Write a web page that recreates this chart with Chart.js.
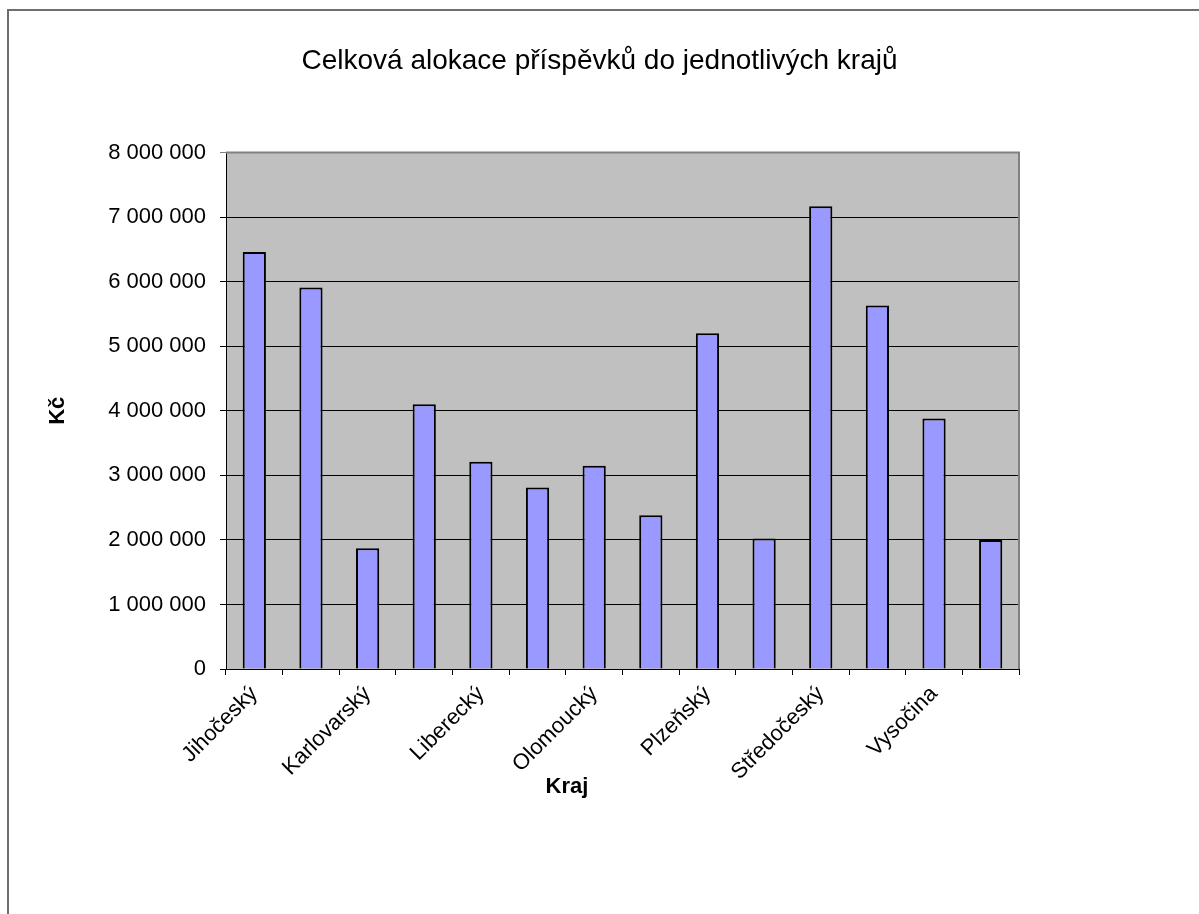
<!DOCTYPE html>
<html>
<head>
<meta charset="utf-8">
<script src="https://cdn.jsdelivr.net/npm/chart.js@4/dist/chart.umd.min.js"></script>
<style>
  html, body { margin: 0; padding: 0; background: #fff; }
  #wrap { width: 1199px; height: 914px; }
</style>
</head>
<body>
<div id="wrap"><canvas id="myChart" width="1199" height="914"></canvas></div>
<script>
// regions (only every other name is printed under the axis)
const kraje = ['Jihočeský', 'Jihomoravský', 'Karlovarský', 'Královéhradecký', 'Liberecký',
  'Moravskoslezský', 'Olomoucký', 'Pardubický', 'Plzeňský', 'Praha', 'Středočeský',
  'Ústecký', 'Vysočina', 'Zlínský'];
// total allocation in Kč
const alokace = [6460000, 5910000, 1870000, 4100000, 3210000, 2810000, 3150000,
  2380000, 5200000, 2020000, 7170000, 5630000, 3880000, 2000000];

const chartTitle = 'Celková alokace příspěvků do jednotlivých krajů';
const yTitle = 'Kč';
const xTitle = 'Kraj';

const fontName = '"Liberation Sans", Arial, sans-serif';

// format 1000000 -> "1 000 000"
const fmt = v => String(v).replace(/\B(?=(\d{3})+(?!\d))/g, ' ');

// grey plot area, outer frame and the x axis title
const frame = {
  id: 'frame',
  beforeDraw(chart) {
    const {ctx, chartArea: a} = chart;
    ctx.save();
    ctx.fillStyle = '#fff';
    ctx.fillRect(0, 0, chart.width, chart.height);
    ctx.strokeStyle = '#6e6e6e';
    ctx.lineWidth = 2;
    ctx.beginPath();
    ctx.moveTo(8, chart.height);
    ctx.lineTo(8, 10);
    ctx.lineTo(chart.width, 10);
    ctx.stroke();
    ctx.fillStyle = '#c0c0c0';
    ctx.fillRect(a.left, a.top, a.right - a.left, a.bottom - a.top);
    ctx.restore();
  },
  afterDraw(chart) {
    const {ctx, chartArea: a} = chart;
    ctx.save();
    ctx.strokeStyle = '#808080';
    ctx.lineWidth = 2;
    ctx.beginPath();
    ctx.moveTo(a.left, a.top);
    ctx.lineTo(a.right, a.top);
    ctx.lineTo(a.right, a.bottom);
    ctx.stroke();
    ctx.fillStyle = '#000';
    ctx.font = 'bold 22px ' + fontName;
    ctx.textAlign = 'center';
    ctx.textBaseline = 'middle';
    ctx.fillText(xTitle, 567, 787);
    ctx.restore();
  }
};

const data = {
  labels: kraje,
  datasets: [{
    data: alokace,
    backgroundColor: '#9999ff',
    borderColor: '#000',
    borderWidth: 2,
    barPercentage: 0.41,
    categoryPercentage: 1
  }]
};

const config = {
  type: 'bar',
  data,
  plugins: [frame],
  options: {
    responsive: false,
    animation: false,
    layout: { padding: 0 },
    plugins: {
      legend: { display: false },
      tooltip: { enabled: false },
      title: {
        display: true,
        text: chartTitle,
        color: '#000',
        font: { family: fontName, size: 28, weight: 'normal' },
        padding: { top: 44, bottom: 75 }
      }
    },
    scales: {
      x: {
        grid: {
          offset: true,
          drawOnChartArea: false,
          color: '#000',
          tickLength: 6
        },
        border: { color: '#000', width: 1 },
        ticks: {
          autoSkip: false,
          minRotation: 45,
          maxRotation: 45,
          color: '#000',
          font: { family: fontName, size: 22 },
          padding: 6,
          callback: (v, i) => (i % 2 === 0 ? kraje[i] : '')
        },
        afterFit: s => { s.height = 245; }
      },
      y: {
        min: 0,
        max: 8000000,
        grid: {
          color: ctx => (ctx.tick && ctx.tick.value === 8000000 ? '#808080' : '#000'),
          tickLength: 6
        },
        border: { color: '#000', width: 1 },
        ticks: {
          stepSize: 1000000,
          color: '#000',
          font: { family: fontName, size: 22 },
          padding: 14,
          callback: v => fmt(v)
        },
        title: {
          display: true,
          text: yTitle,
          color: '#000',
          font: { family: fontName, size: 22, weight: 'bold' },
          padding: { top: 45, bottom: 0 }
        },
        afterFit: s => { s.width = 226; }
      },
      // empty axis that only keeps the white space on the right
      y2: {
        position: 'right',
        grid: { display: false },
        border: { display: false },
        ticks: { display: false },
        afterFit: s => { s.width = 180; }
      }
    }
  }
};

const myChart = new Chart(document.getElementById('myChart'), config);
</script>
</body>
</html>
